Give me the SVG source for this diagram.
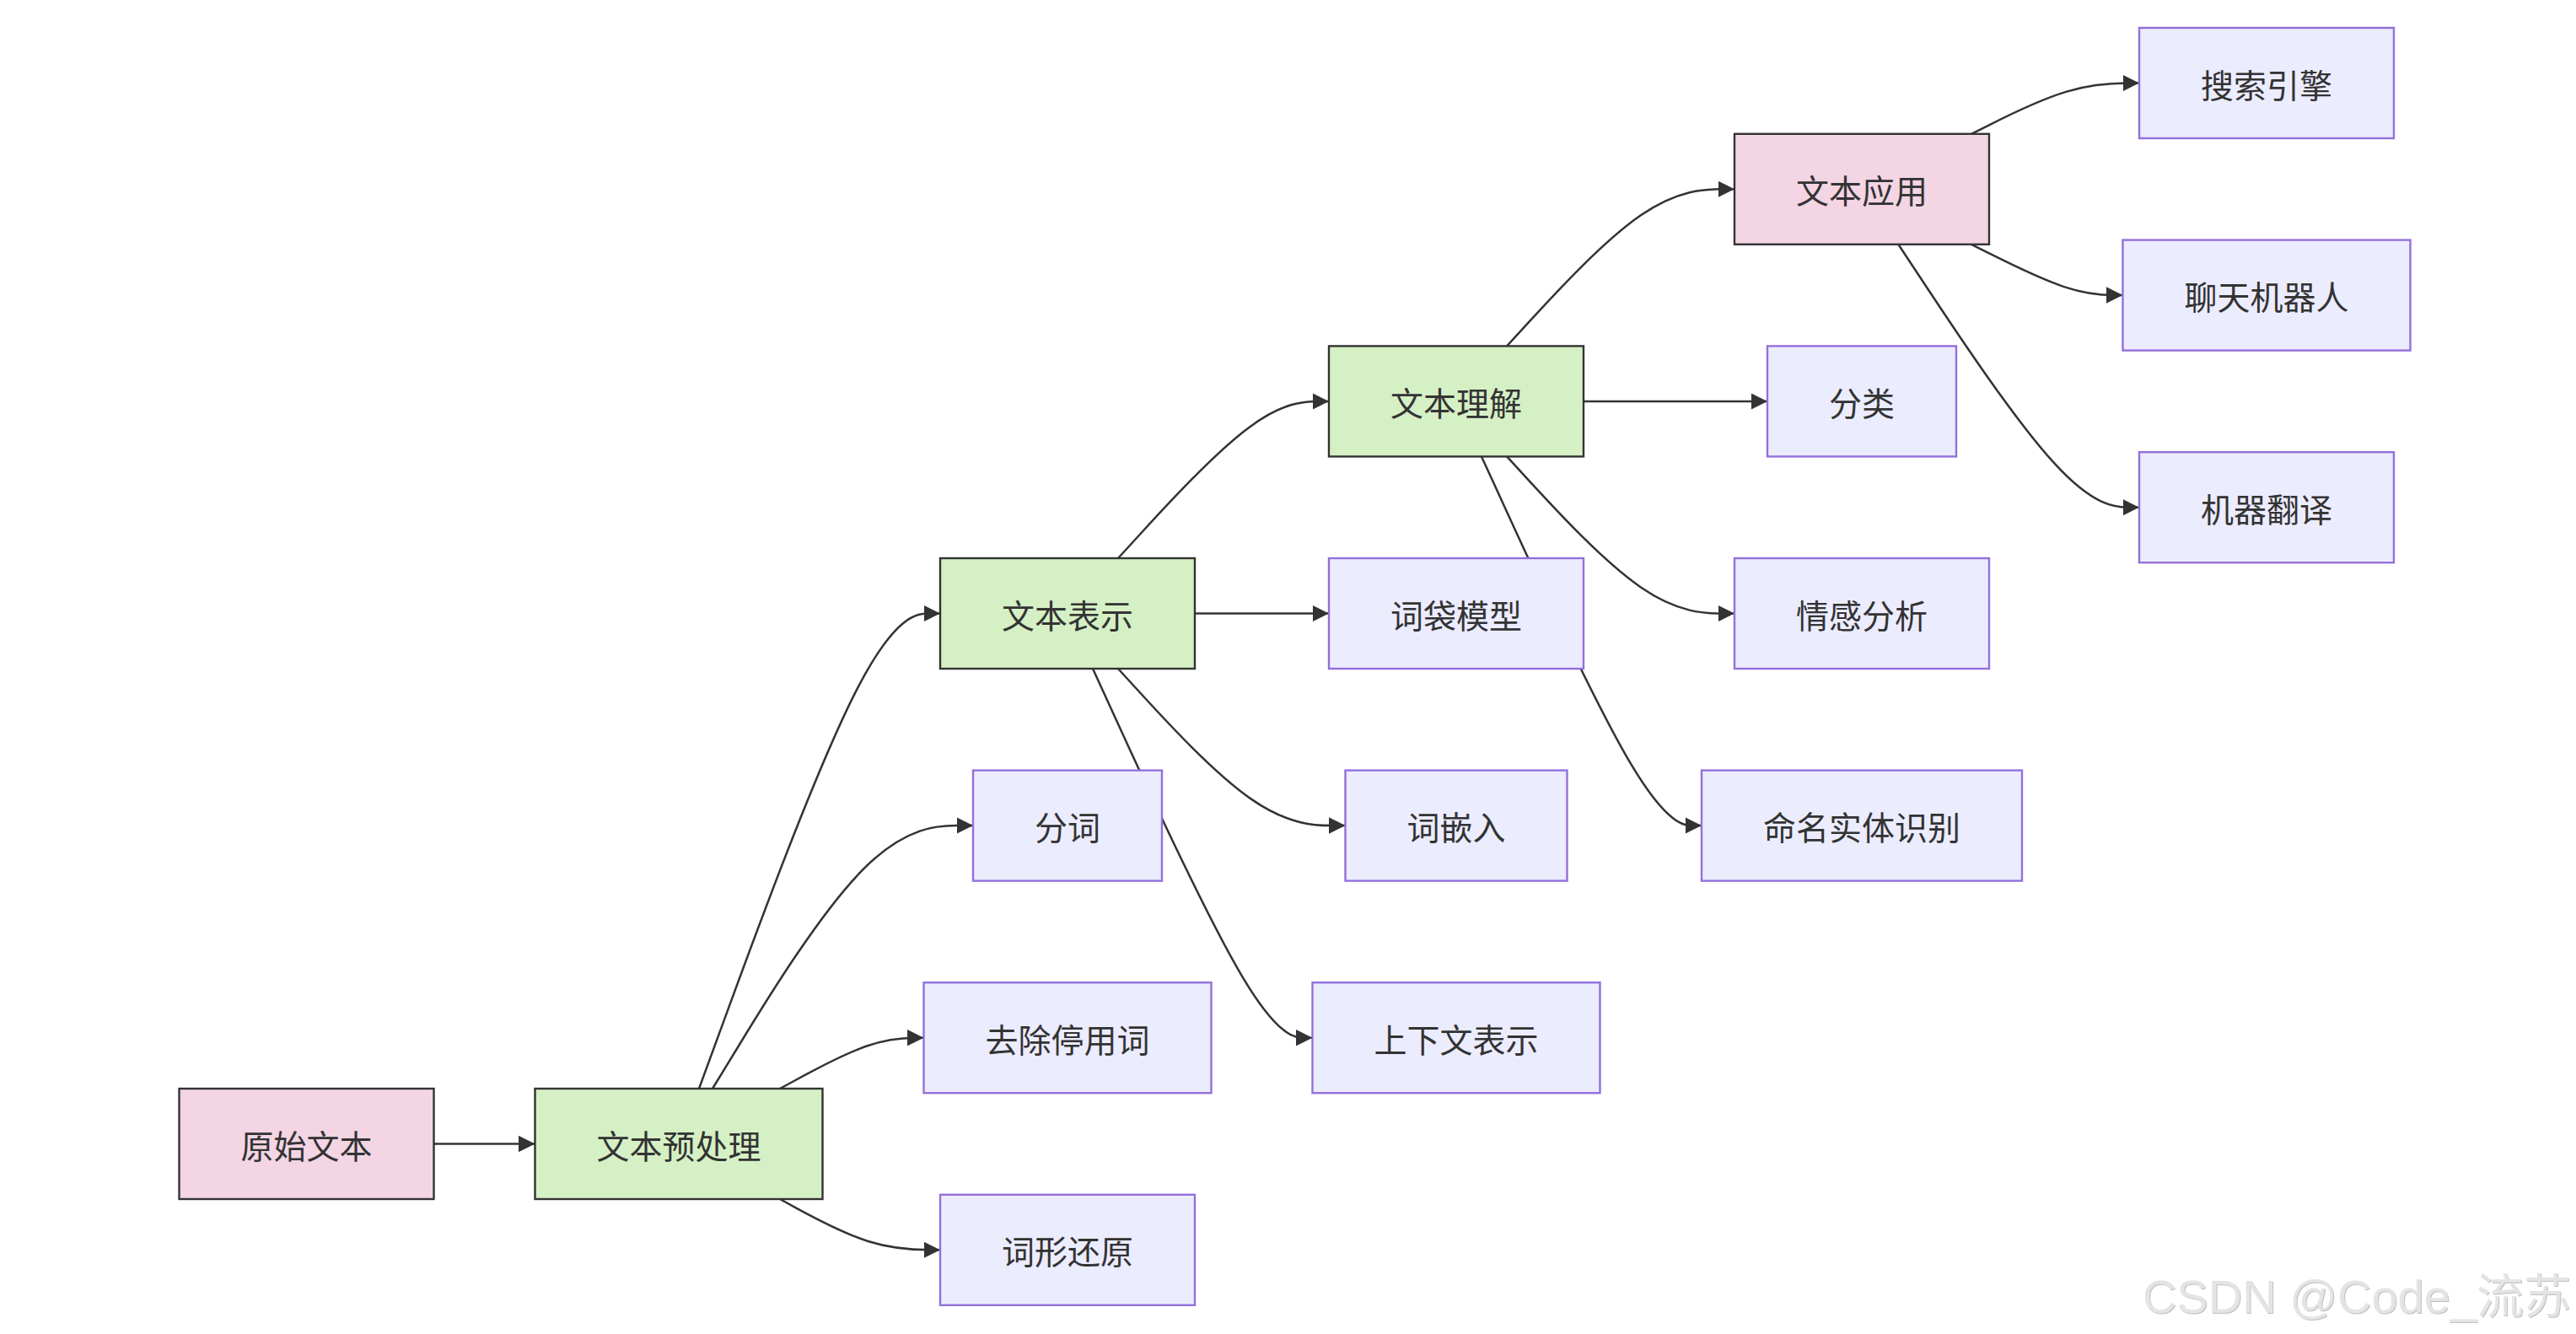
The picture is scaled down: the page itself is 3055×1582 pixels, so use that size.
<svg xmlns="http://www.w3.org/2000/svg" width="3055" height="1582" viewBox="0 0 3055 1582">
<style>
.node rect{stroke-width:2.4}
.def rect{fill:#ececff;stroke:#9370db}
.pink rect{fill:#f3d5e4;stroke:#333}
.green rect{fill:#d5f0c5;stroke:#333}
.node text{font-family:"Noto Sans CJK SC","Noto Sans",sans-serif;font-size:39px;fill:#333;text-anchor:middle;dominant-baseline:central}
.edge{fill:none;stroke:#333;stroke-width:2.5;marker-end:url(#arrow)}
.wm{font-family:"Liberation Sans","Noto Sans CJK SC",sans-serif;font-size:56px;fill:#e4e4e4;text-anchor:end;filter:url(#emb)}
</style>
<defs>
<marker id="arrow" markerUnits="userSpaceOnUse" viewBox="0 0 10 10" refX="10" refY="5" markerWidth="19.5" markerHeight="19.5" orient="auto">
<path d="M0,0 L10,5 L0,10 z" fill="#333"/>
</marker>
<filter id="emb" x="-5%" y="-20%" width="110%" height="140%">
<feDropShadow dx="1" dy="1" stdDeviation="0.6" flood-color="#b8b8b8" flood-opacity="0.9"/>
</filter>
</defs>
<rect width="3055" height="1582" fill="#fff"/>
<g id="connectors">
<path class="edge" d="M514.5,1356.5 L634.5,1356.5"/>
<path class="edge" d="M829,1291 L863.4,1197.1 C897.8,1103.2 966.7,915.3 1014.3,821.4 C1062,727.5 1088.5,727.5 1101.8,727.5 L1115,727.5"/>
<path class="edge" d="M845,1291 L876.8,1239 C908.5,1187 972,1083.1 1023.5,1031.1 C1075,979.1 1114.5,979.1 1134.3,979.1 L1154,979.1"/>
<path class="edge" d="M925,1291 L943.4,1281 C961.8,1270.9 998.7,1250.8 1027.1,1240.8 C1055.5,1230.7 1075.5,1230.7 1085.5,1230.7 L1095.5,1230.7"/>
<path class="edge" d="M925,1422 L943.4,1432.1 C961.8,1442.1 998.7,1462.2 1030.3,1472.3 C1062,1482.3 1088.5,1482.3 1101.8,1482.3 L1115,1482.3"/>
<path class="edge" d="M1417,727.5 L1576,727.5"/>
<path class="edge" d="M1326,662 L1354.4,631 C1382.8,600 1439.7,537.9 1481.3,506.9 C1523,475.9 1549.5,475.9 1562.8,475.9 L1576,475.9"/>
<path class="edge" d="M1326,793 L1354.4,824 C1382.8,855 1439.7,917.1 1484.6,948.1 C1529.5,979.1 1562.5,979.1 1579,979.1 L1595.5,979.1"/>
<path class="edge" d="M1296,793 L1329.4,866 C1362.8,938.9 1429.7,1084.8 1473.1,1157.8 C1516.5,1230.7 1536.5,1230.7 1546.5,1230.7 L1556.5,1230.7"/>
<path class="edge" d="M1878,475.9 L2096,475.9"/>
<path class="edge" d="M1787.1,410.4 L1815.5,379.4 C1844,348.4 1900.9,286.3 1945.9,255.3 C1990.8,224.3 2023.9,224.3 2040.5,224.3 L2057,224.3"/>
<path class="edge" d="M1787.1,541.4 L1815.5,572.4 C1844,603.4 1900.9,665.5 1945.9,696.5 C1990.8,727.5 2023.9,727.5 2040.5,727.5 L2057,727.5"/>
<path class="edge" d="M1757,541.4 L1790.5,614.4 C1823.9,687.3 1890.8,833.2 1934.3,906.2 C1977.8,979.1 1997.9,979.1 2008,979.1 L2018,979.1"/>
<path class="edge" d="M2338,158.8 L2358,148.8 C2377.9,138.7 2417.8,118.6 2451,108.6 C2484.2,98.5 2510.6,98.5 2523.8,98.5 L2537,98.5"/>
<path class="edge" d="M2338,289.8 L2358,299.9 C2377.9,309.9 2417.8,330 2447.8,340.1 C2477.7,350.1 2497.6,350.1 2507.5,350.1 L2517.5,350.1"/>
<path class="edge" d="M2251.3,289.8 L2285.7,341.8 C2320.1,393.8 2388.9,497.7 2436.6,549.7 C2484.2,601.7 2510.6,601.7 2523.8,601.7 L2537,601.7"/>
</g>
<g id="n1" class="node pink"><rect x="212.5" y="1291" width="302" height="131"/><text x="363.5" y="1356.5">原始文本</text></g>
<g id="n2" class="node green"><rect x="634.5" y="1291" width="341" height="131"/><text x="805" y="1356.5">文本预处理</text></g>
<g id="n3" class="node def"><rect x="1154" y="913.6" width="224" height="131"/><text x="1266" y="979.1">分词</text></g>
<g id="n4" class="node def"><rect x="1095.5" y="1165.2" width="341" height="131"/><text x="1266" y="1230.7">去除停用词</text></g>
<g id="n5" class="node def"><rect x="1115" y="1416.8" width="302" height="131"/><text x="1266" y="1482.3">词形还原</text></g>
<g id="n6" class="node green"><rect x="1115" y="662" width="302" height="131"/><text x="1266" y="727.5">文本表示</text></g>
<g id="n7" class="node def"><rect x="1576" y="662" width="302" height="131"/><text x="1727" y="727.5">词袋模型</text></g>
<g id="n8" class="node def"><rect x="1595.5" y="913.6" width="263" height="131"/><text x="1727" y="979.1">词嵌入</text></g>
<g id="n9" class="node def"><rect x="1556.5" y="1165.2" width="341" height="131"/><text x="1727" y="1230.7">上下文表示</text></g>
<g id="n10" class="node green"><rect x="1576" y="410.4" width="302" height="131"/><text x="1727" y="475.9">文本理解</text></g>
<g id="n11" class="node def"><rect x="2096" y="410.4" width="224" height="131"/><text x="2208" y="475.9">分类</text></g>
<g id="n12" class="node def"><rect x="2057" y="662" width="302" height="131"/><text x="2208" y="727.5">情感分析</text></g>
<g id="n13" class="node def"><rect x="2018" y="913.6" width="380" height="131"/><text x="2208" y="979.1">命名实体识别</text></g>
<g id="n14" class="node pink"><rect x="2057" y="158.8" width="302" height="131"/><text x="2208" y="224.3">文本应用</text></g>
<g id="n15" class="node def"><rect x="2537" y="33" width="302" height="131"/><text x="2688" y="98.5">搜索引擎</text></g>
<g id="n16" class="node def"><rect x="2517.5" y="284.6" width="341" height="131"/><text x="2688" y="350.1">聊天机器人</text></g>
<g id="n17" class="node def"><rect x="2537" y="536.2" width="302" height="131"/><text x="2688" y="601.7">机器翻译</text></g>
<text class="wm" x="3049" y="1557">CSDN @Code_流苏</text>
</svg>
